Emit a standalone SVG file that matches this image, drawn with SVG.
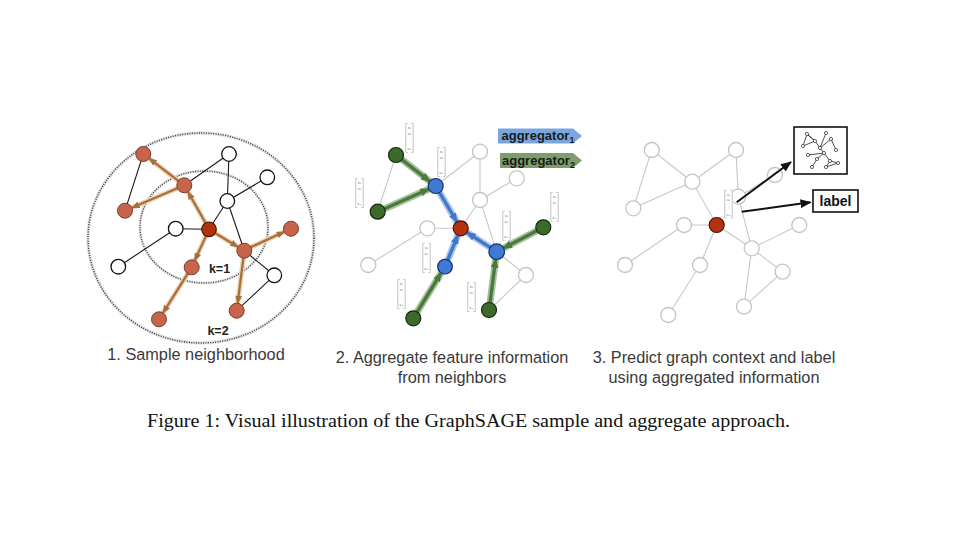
<svg xmlns="http://www.w3.org/2000/svg" width="960" height="540" viewBox="0 0 960 540">
<style>
.bg{fill:#fff}
.lbl{font-family:"Liberation Sans",Arial,sans-serif;font-size:16.3px;fill:#3a3a3a;text-anchor:middle}
.cap{font-family:"Liberation Serif","Times New Roman",serif;font-size:19.5px;fill:#111}
.kt{font-family:"Liberation Sans",Arial,sans-serif;font-size:12.5px;font-weight:bold;fill:#222;text-anchor:middle}
.agt{font-family:"Liberation Sans",Arial,sans-serif;font-size:13px;font-weight:bold;fill:#1a1a1a}
.w1{fill:#fff;stroke:#111;stroke-width:1.3}
.or{fill:#c6654b;stroke:#7a3d2c;stroke-width:1}
.rd{fill:#b3320f;stroke:#4a1505;stroke-width:1.2}
.gw{fill:#fff;stroke:#c4c4c4;stroke-width:1.3}
.bl{fill:#3f7ad6;stroke:#163066;stroke-width:1.2}
.gr{fill:#3b6a2a;stroke:#142a0c;stroke-width:1.2}
.thin{stroke:#1a1a1a;stroke-width:1.1;fill:none}
.light{stroke:#c8c8c8;stroke-width:1.1;fill:none}
.oh{stroke:#ead2b4;stroke-width:5;fill:none;stroke-linecap:round}
.oc{stroke:#a86e3a;stroke-width:2.2;fill:none;marker-end:url(#ao)}
.gh{stroke:#a9c19d;stroke-width:7;fill:none;stroke-linecap:round}
.gc{stroke:#4a7a3c;stroke-width:3.4;fill:none;marker-end:url(#ag)}
.bh{stroke:#adc8ee;stroke-width:7;fill:none;stroke-linecap:round}
.bc{stroke:#3f78cc;stroke-width:3.4;fill:none;marker-end:url(#ab)}
.blk{stroke:#111;stroke-width:2;fill:none;marker-end:url(#ak)}
.vt{font-family:"DejaVu Sans",sans-serif;font-size:3.6px;fill:#777;text-anchor:middle}
.ico{stroke:#222;stroke-width:0.8;fill:none}
.icn{fill:#fff;stroke:#222;stroke-width:0.7}
</style>
<defs>
<marker id="ao" markerUnits="userSpaceOnUse" markerWidth="8" markerHeight="7" refX="7" refY="3.5" orient="auto"><path d="M0,0 L8,3.5 L0,7 z" fill="#a86e3a"/></marker>
<marker id="ag" markerUnits="userSpaceOnUse" markerWidth="9" markerHeight="8" refX="8" refY="4" orient="auto"><path d="M0,0 L9,4 L0,8 z" fill="#4a7a3c"/></marker>
<marker id="ab" markerUnits="userSpaceOnUse" markerWidth="9" markerHeight="8" refX="8" refY="4" orient="auto"><path d="M0,0 L9,4 L0,8 z" fill="#3f78cc"/></marker>
<marker id="ak" markerUnits="userSpaceOnUse" markerWidth="11" markerHeight="9" refX="10" refY="4.5" orient="auto"><path d="M0,0 L11,4.5 L0,9 z" fill="#111"/></marker>
<g id="vec">
<rect x="0" y="0" width="9" height="30" fill="#fff"/>
<path d="M2.6,0.5 H0.8 V29.5 H2.6 M6.4,0.5 H8.2 V29.5 H6.4" stroke="#9a9a9a" stroke-width="0.6" fill="none"/>
<text class="vt" x="4.5" y="6">x₁</text>
<text class="vt" x="4.5" y="12">x₂</text>
<text class="vt" x="4.5" y="19.5">⋮</text>
<text class="vt" x="4.5" y="27">xₘ</text>
</g>
</defs>
<rect class="bg" x="0" y="0" width="960" height="540"/>

<!-- Panel 1 dotted neighbourhood rings -->
<g id="ring-k2">
<ellipse cx="201" cy="238" rx="113" ry="105" fill="none" stroke="#e4e4e4" stroke-width="3.5"/>
<ellipse cx="201" cy="238" rx="113" ry="105" fill="none" stroke="#333" stroke-width="1.4" stroke-dasharray="1 1.4"/>
</g>
<g id="ring-k1">
<ellipse cx="204" cy="227" rx="64" ry="56" fill="none" stroke="#e4e4e4" stroke-width="3"/>
<ellipse cx="204" cy="227" rx="64" ry="56" fill="none" stroke="#333" stroke-width="1.3" stroke-dasharray="1 1.4"/>
</g>

<g id="connectors">
<!-- panel 1 thin -->
<line class="thin" x1="143.3" y1="154" x2="125" y2="210.7"/>
<line class="thin" x1="229" y1="154" x2="184.3" y2="185.3"/>
<line class="thin" x1="229" y1="154" x2="227.3" y2="201"/>
<line class="thin" x1="267.3" y1="177.3" x2="227.3" y2="201"/>
<line class="thin" x1="227.3" y1="201" x2="209" y2="229.3"/>
<line class="thin" x1="227.3" y1="201" x2="244.3" y2="250.7"/>
<line class="thin" x1="175.7" y1="228.7" x2="209" y2="229.3"/>
<line class="thin" x1="175.7" y1="228.7" x2="118.3" y2="266.7"/>
<line class="thin" x1="244.3" y1="250.7" x2="274.3" y2="275.3"/>
<line class="thin" x1="274.3" y1="275.3" x2="236.7" y2="310.7"/>
<!-- panel 1 sampling arrows -->
<g>
<line class="oh" x1="205.3" y1="222.5" x2="188.2" y2="192.3"/>
<line class="oh" x1="178.3" y1="180.8" x2="149.7" y2="158.9"/>
<line class="oh" x1="177.4" y1="188.3" x2="132.4" y2="207.5"/>
<line class="oh" x1="205.9" y1="236.1" x2="195" y2="260"/>
<line class="oh" x1="187.7" y1="273.6" x2="163.3" y2="312.5"/>
<line class="oh" x1="215.4" y1="233.2" x2="237.5" y2="246.6"/>
<line class="oh" x1="250.1" y1="247.5" x2="283.8" y2="232.1"/>
<line class="oh" x1="243.4" y1="258.1" x2="237.7" y2="302.8"/>
<line class="oc" x1="205.3" y1="222.5" x2="188.2" y2="192.3"/>
<line class="oc" x1="178.3" y1="180.8" x2="149.7" y2="158.9"/>
<line class="oc" x1="177.4" y1="188.3" x2="132.4" y2="207.5"/>
<line class="oc" x1="205.9" y1="236.1" x2="195" y2="260"/>
<line class="oc" x1="187.7" y1="273.6" x2="163.3" y2="312.5"/>
<line class="oc" x1="215.4" y1="233.2" x2="237.5" y2="246.6"/>
<line class="oc" x1="250.1" y1="247.5" x2="283.8" y2="232.1"/>
<line class="oc" x1="243.4" y1="258.1" x2="237.7" y2="302.8"/>
</g>
<!-- panel 2 light -->
<line class="light" x1="396" y1="155" x2="377.7" y2="211.7"/>
<line class="light" x1="435.7" y1="186" x2="480" y2="151.7"/>
<line class="light" x1="480" y1="151.7" x2="480" y2="200"/>
<line class="light" x1="516.7" y1="178.3" x2="480" y2="200"/>
<line class="light" x1="480" y1="200" x2="460.7" y2="228.3"/>
<line class="light" x1="480" y1="200" x2="496.7" y2="251.7"/>
<line class="light" x1="427.3" y1="228.3" x2="460.7" y2="228.3"/>
<line class="light" x1="427.3" y1="228.3" x2="368.3" y2="265"/>
<line class="light" x1="496.7" y1="251.7" x2="526" y2="275"/>
<line class="light" x1="526" y1="275" x2="489" y2="310"/>
<!-- panel 2 aggregation arrows -->
<g>
<line class="gh" x1="401.9" y1="159.6" x2="429.4" y2="181.1"/>
<line class="gh" x1="384.6" y1="208.7" x2="428.4" y2="189.2"/>
<line class="gh" x1="536.7" y1="230.8" x2="503.8" y2="248"/>
<line class="gh" x1="490" y1="302.6" x2="495.6" y2="259.6"/>
<line class="gh" x1="417.2" y1="311.9" x2="440.8" y2="273.5"/>
<line class="bh" x1="439.5" y1="192.5" x2="456.6" y2="221.4"/>
<line class="bh" x1="490.4" y1="247.6" x2="467.4" y2="232.7"/>
<line class="bh" x1="447.8" y1="259.8" x2="457.7" y2="235.7"/>
<line class="gc" x1="401.9" y1="159.6" x2="429.4" y2="181.1"/>
<line class="gc" x1="384.6" y1="208.7" x2="428.4" y2="189.2"/>
<line class="gc" x1="536.7" y1="230.8" x2="503.8" y2="248"/>
<line class="gc" x1="490" y1="302.6" x2="495.6" y2="259.6"/>
<line class="gc" x1="417.2" y1="311.9" x2="440.8" y2="273.5"/>
<line class="bc" x1="439.5" y1="192.5" x2="456.6" y2="221.4"/>
<line class="bc" x1="490.4" y1="247.6" x2="467.4" y2="232.7"/>
<line class="bc" x1="447.8" y1="259.8" x2="457.7" y2="235.7"/>
</g>
<!-- panel 3 light -->
<line class="light" x1="651.7" y1="150" x2="692.3" y2="181.7"/>
<line class="light" x1="651.7" y1="150" x2="633.3" y2="208.3"/>
<line class="light" x1="633.3" y1="208.3" x2="692.3" y2="181.7"/>
<line class="light" x1="692.3" y1="181.7" x2="736" y2="150"/>
<line class="light" x1="736" y1="150" x2="738.3" y2="196.7"/>
<line class="light" x1="692.3" y1="181.7" x2="716.7" y2="225"/>
<line class="light" x1="775" y1="175" x2="738.3" y2="196.7"/>
<line class="light" x1="738.3" y1="196.7" x2="751.7" y2="248.3"/>
<line class="light" x1="684" y1="225" x2="716.7" y2="225"/>
<line class="light" x1="684" y1="225" x2="625" y2="265"/>
<line class="light" x1="716.7" y1="225" x2="751.7" y2="248.3"/>
<line class="light" x1="751.7" y1="248.3" x2="799.3" y2="225"/>
<line class="light" x1="751.7" y1="248.3" x2="782.7" y2="271.7"/>
<line class="light" x1="751.7" y1="248.3" x2="744" y2="306.7"/>
<line class="light" x1="782.7" y1="271.7" x2="744" y2="306.7"/>
<line class="light" x1="716.7" y1="225" x2="700" y2="265"/>
<line class="light" x1="700" y1="265" x2="668.3" y2="315"/>
</g>

<!-- Panel 1 nodes -->
<g id="p1-center"><circle class="rd" cx="209" cy="229.3" r="7.3"/></g>
<g id="p1-o1"><circle class="or" cx="143.3" cy="154" r="7.5"/></g>
<g id="p1-o2"><circle class="or" cx="184.3" cy="185.3" r="7.5"/></g>
<g id="p1-o3"><circle class="or" cx="125" cy="210.7" r="7.5"/></g>
<g id="p1-o4"><circle class="or" cx="191.7" cy="267.3" r="7.5"/></g>
<g id="p1-o5"><circle class="or" cx="159" cy="319.3" r="7.5"/></g>
<g id="p1-o6"><circle class="or" cx="244.3" cy="250.7" r="7.5"/></g>
<g id="p1-o7"><circle class="or" cx="291" cy="228.7" r="7.5"/></g>
<g id="p1-o8"><circle class="or" cx="236.7" cy="310.7" r="7.5"/></g>
<g id="p1-w1"><circle class="w1" cx="229" cy="154" r="7.3"/></g>
<g id="p1-w2"><circle class="w1" cx="267.3" cy="177.3" r="7.3"/></g>
<g id="p1-w3"><circle class="w1" cx="227.3" cy="201" r="7.3"/></g>
<g id="p1-w4"><circle class="w1" cx="175.7" cy="228.7" r="7.3"/></g>
<g id="p1-w5"><circle class="w1" cx="118.3" cy="266.7" r="7.3"/></g>
<g id="p1-w6"><circle class="w1" cx="274.3" cy="275.3" r="7.3"/></g>
<g id="p1-k1"><text class="kt" x="219.5" y="272.5">k=1</text></g>
<g id="p1-k2"><text class="kt" x="218" y="335">k=2</text></g>

<!-- Panel 2 nodes -->
<g id="p2-center"><circle class="rd" cx="460.7" cy="228.3" r="7.5"/></g>
<g id="p2-b1"><circle class="bl" cx="435.7" cy="186" r="7.5"/></g>
<g id="p2-b2"><circle class="bl" cx="496.7" cy="251.7" r="7.8"/></g>
<g id="p2-b3"><circle class="bl" cx="445" cy="266.7" r="7.3"/></g>
<g id="p2-g1"><circle class="gr" cx="396" cy="155" r="7.5"/></g>
<g id="p2-g2"><circle class="gr" cx="377.7" cy="211.7" r="7.5"/></g>
<g id="p2-g3"><circle class="gr" cx="543.3" cy="227.3" r="7.5"/></g>
<g id="p2-g4"><circle class="gr" cx="489" cy="310" r="7.5"/></g>
<g id="p2-g5"><circle class="gr" cx="413.3" cy="318.3" r="7.5"/></g>
<g id="p2-w1"><circle class="gw" cx="480" cy="151.7" r="7.5"/></g>
<g id="p2-w2"><circle class="gw" cx="516.7" cy="178.3" r="7.5"/></g>
<g id="p2-w3"><circle class="gw" cx="480" cy="200" r="7.5"/></g>
<g id="p2-w4"><circle class="gw" cx="427.3" cy="228.3" r="7.5"/></g>
<g id="p2-w5"><circle class="gw" cx="368.3" cy="265" r="7.5"/></g>
<g id="p2-w6"><circle class="gw" cx="526" cy="275" r="7.5"/></g>
<g id="p2-vectors">
<use href="#vec" x="405" y="123"/>
<use href="#vec" x="437" y="147"/>
<use href="#vec" x="355" y="178"/>
<use href="#vec" x="550" y="192"/>
<use href="#vec" x="502" y="211"/>
<use href="#vec" x="422" y="243"/>
<use href="#vec" x="397" y="279"/>
<use href="#vec" x="467" y="282"/>
</g>
<g id="p2-agg1">
<path d="M498,128.5 H573 L582,136 L573,143.5 H498 z" fill="#7aa6de"/>
<text class="agt" x="501.5" y="140">aggregator<tspan font-size="9" dy="3">1</tspan></text>
</g>
<g id="p2-agg2">
<path d="M500,153 H573 L582,160.5 L573,168 H500 z" fill="#7b9e6c"/>
<text class="agt" x="502" y="164.5">aggregator<tspan font-size="9" dy="3">2</tspan></text>
</g>

<!-- Panel 3 nodes -->
<g id="p3-w1"><circle class="gw" cx="651.7" cy="150" r="7.5"/></g>
<g id="p3-w2"><circle class="gw" cx="736" cy="150" r="7.5"/></g>
<g id="p3-w3"><circle class="gw" cx="692.3" cy="181.7" r="7.5"/></g>
<g id="p3-w4"><circle class="gw" cx="775" cy="175" r="7.5"/></g>
<g id="p3-w5"><circle class="gw" cx="738.3" cy="196.7" r="7.5"/></g>
<g id="p3-w6"><circle class="gw" cx="633.3" cy="208.3" r="7.5"/></g>
<g id="p3-w7"><circle class="gw" cx="684" cy="225" r="7.5"/></g>
<g id="p3-w8"><circle class="gw" cx="799.3" cy="225" r="7.5"/></g>
<g id="p3-w9"><circle class="gw" cx="751.7" cy="248.3" r="7.5"/></g>
<g id="p3-w10"><circle class="gw" cx="625" cy="265" r="7.5"/></g>
<g id="p3-w11"><circle class="gw" cx="700" cy="265" r="7.5"/></g>
<g id="p3-w12"><circle class="gw" cx="782.7" cy="271.7" r="7.5"/></g>
<g id="p3-w13"><circle class="gw" cx="668.3" cy="315" r="7.5"/></g>
<g id="p3-w14"><circle class="gw" cx="744" cy="306.7" r="7.5"/></g>
<g id="p3-center"><circle class="rd" cx="716.7" cy="225" r="7.5"/></g>
<g id="p3-vector"><use href="#vec" transform="translate(724,190) scale(1,0.95)"/></g>
<g id="p3-arrows">
<line class="blk" x1="736.7" y1="202.3" x2="791" y2="162"/>
<line class="blk" x1="741.7" y1="211.7" x2="810.5" y2="202.3"/>
</g>
<g id="p3-graph">
<rect x="794" y="127" width="53" height="47" fill="#fff" stroke="#111" stroke-width="1.6"/>
<path class="ico" d="M807,134 L803,146 L815,141 Z M815,141 L820,148 L826,133 M820,148 L831,139 L836,150 M820,148 L824,153 L808,155 M824,153 L817,159 L812,167 M824,153 L830,161 L826,167 L838,163 L830,161 M807,134 L815,141"/>
<circle class="icn" cx="807" cy="134" r="1.6"/>
<circle class="icn" cx="803" cy="146" r="1.6"/>
<circle class="icn" cx="815" cy="141" r="1.6"/>
<circle class="icn" cx="826" cy="133" r="1.6"/>
<circle class="icn" cx="820" cy="148" r="1.6"/>
<circle class="icn" cx="831" cy="139" r="1.6"/>
<circle class="icn" cx="836" cy="150" r="1.6"/>
<circle class="icn" cx="824" cy="153" r="1.6"/>
<circle class="icn" cx="808" cy="155" r="1.6"/>
<circle class="icn" cx="817" cy="159" r="1.6"/>
<circle class="icn" cx="812" cy="167" r="1.6"/>
<circle class="icn" cx="830" cy="161" r="1.6"/>
<circle class="icn" cx="826" cy="167" r="1.6"/>
<circle class="icn" cx="838" cy="163" r="1.6"/>
</g>
<g id="p3-label">
<rect x="813" y="190" width="45" height="22" fill="#fff" stroke="#111" stroke-width="1.6"/>
<text x="835.5" y="205.8" font-family="Liberation Sans, Arial, sans-serif" font-size="14" font-weight="bold" fill="#111" text-anchor="middle">label</text>
</g>

<!-- captions -->
<g id="captions">
<text class="lbl" x="196" y="360">1. Sample neighborhood</text>
<text class="lbl" x="452" y="363">2. Aggregate feature information</text>
<text class="lbl" x="452" y="383">from neighbors</text>
<text class="lbl" x="714" y="363">3. Predict graph context and label</text>
<text class="lbl" x="714" y="383">using aggregated information</text>
<text class="cap" x="147" y="427" textLength="643" lengthAdjust="spacingAndGlyphs">Figure 1: Visual illustration of the GraphSAGE sample and aggregate approach.</text>
</g>
</svg>
